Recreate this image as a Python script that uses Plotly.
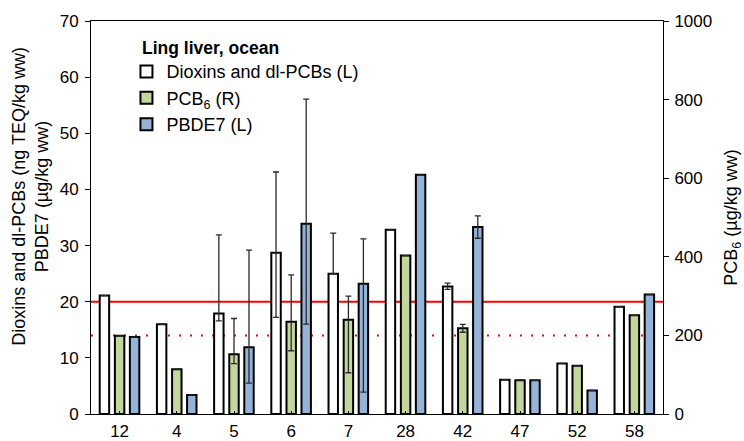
import plotly.graph_objects as go

# ---- data ----
categories = ["12", "4", "5", "6", "7", "28", "42", "47", "52", "58"]

dioxins = [21.1, 16.0, 17.9, 28.7, 25.0, 32.8, 22.7, 6.1, 9.0, 19.1]
dioxins_max = [None, None, 31.9, 43.1, 32.2, None, 23.3, None, None, None]
dioxins_min = [None, None, 16.6, 17.2, 25.0, None, 22.2, None, None, None]

pcb6 = [199, 114, 152, 235, 240, 403, 218, 86, 123, 251]
pcb6_max = [None, None, 243, 354, 300, None, 228, None, None, None]
pcb6_min = [None, None, 128, 161, 105, None, 208, None, None, None]

pbde7 = [13.7, 3.4, 11.9, 33.9, 23.2, 42.6, 33.3, 6.0, 4.2, 21.3]
pbde7_max = [None, None, 29.2, 56.1, 31.2, None, 35.3, None, None, None]
pbde7_min = [None, None, 5.5, 16.0, 3.9, None, 31.3, None, None, None]

dioxin_limit = 20     # left axis
pcb6_limit = 200      # right axis

left_ticks = [0, 10, 20, 30, 40, 50, 60, 70]
right_ticks = [0, 200, 400, 600, 800, 1000]

left_title = "Dioxins and dl-PCBs (ng TEQ/kg ww)<br>PBDE7 (µg/kg ww)"
right_title = "PCB<sub>6</sub> (µg/kg ww)"


def errs(vals, hi, lo):
    plus = [(h - v) if h is not None else 0 for v, h in zip(vals, hi)]
    minus = [(v - l) if l is not None else 0 for v, l in zip(vals, lo)]
    return plus, minus


FONT = "Arial, Liberation Sans, sans-serif"
BAR_W = 0.165
ERR = dict(color="#2a2a2a", thickness=1.3, width=3)

fig = go.Figure()

series = [
    ("Dioxins and dl-PCBs (L)", dioxins, dioxins_max, dioxins_min, "#ffffff", "y", -0.265),
    ("PCB<sub>6</sub> (R)", pcb6, pcb6_max, pcb6_min, "#c3d69b", "y2", 0.0),
    ("PBDE7 (L)", pbde7, pbde7_max, pbde7_min, "#95b3d7", "y", 0.262),
]

for name, vals, hi, lo, color, yax, center in series:
    plus, minus = errs(vals, hi, lo)
    fig.add_trace(go.Bar(
        x=categories, y=vals, name=name, yaxis=yax,
        width=BAR_W, offset=center - BAR_W / 2,
        marker=dict(color=color, line=dict(color="#000000", width=2)),
        error_y=dict(type="data", symmetric=False, array=plus, arrayminus=minus, **ERR),
    ))

fig.add_shape(type="line", xref="paper", x0=0, x1=1, yref="y", y0=dioxin_limit, y1=dioxin_limit,
              line=dict(color="#ff0000", width=2), layer="below")
fig.add_shape(type="line", xref="paper", x0=0, x1=1, yref="y2", y0=pcb6_limit, y1=pcb6_limit,
              line=dict(color="#ff0000", width=2, dash="2px,9px"), layer="below")

fig.add_annotation(text="<b>Ling liver, ocean</b>", xref="paper", yref="paper",
                   x=0.085, y=0.932, xanchor="left", yanchor="middle", showarrow=False,
                   font=dict(family=FONT, size=17.5, color="#000000"))

# left axis title (two lines), placed like the original
fig.add_annotation(text=left_title, xref="paper", yref="paper", textangle=-90,
                   x=-0.105, y=0.555, xanchor="center", yanchor="middle", showarrow=False,
                   font=dict(family=FONT, size=18, color="#000000"))

fig.update_layout(
    width=744, height=441,
    margin=dict(l=91, r=81, t=21, b=27, autoexpand=False),
    paper_bgcolor="#ffffff", plot_bgcolor="#ffffff",
    font=dict(family=FONT, size=17, color="#000000"),
    barmode="overlay",
    showlegend=True,
    legend=dict(x=0.062, y=0.918, xanchor="left", yanchor="top",
                bgcolor="rgba(0,0,0,0)", font=dict(family=FONT, size=18),
                tracegroupgap=0, traceorder="normal"),
    xaxis=dict(type="category", showline=True, linecolor="#000000", linewidth=1, mirror=True,
               ticks="inside", ticklen=3, tickcolor="#000000", showgrid=False,
               ticklabelstandoff=2, tickfont=dict(size=17)),
    yaxis=dict(range=[0, 70], tickvals=left_ticks, showline=True, linecolor="#000000", linewidth=1,
               ticks="outside", ticklen=5, tickcolor="#000000", showgrid=False, zeroline=False,
               ticklabelstandoff=3, tickfont=dict(size=17)),
    yaxis2=dict(range=[0, 1000], tickvals=right_ticks, overlaying="y", side="right",
                showline=True, linecolor="#000000", linewidth=1,
                ticks="outside", ticklen=5, tickcolor="#000000", showgrid=False, zeroline=False,
                ticklabelstandoff=2, tickfont=dict(size=17),
                title=dict(text=right_title, font=dict(size=18), standoff=16)),
)

fig.write_html("out.html")
